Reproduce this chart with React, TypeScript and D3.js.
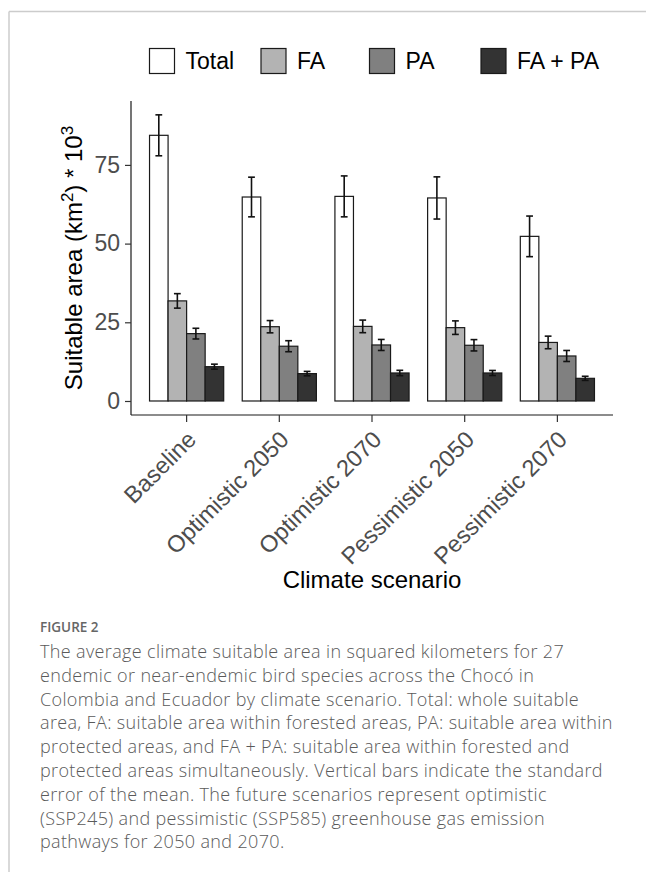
import React, { useEffect, useRef } from "react";
import * as d3 from "d3";

const scenarios = ["Baseline", "Optimistic 2050", "Optimistic 2070", "Pessimistic 2050", "Pessimistic 2070"];
const groups = ["Total", "FA", "PA", "FA + PA"];
const totalMean = [84.4, 64.8, 65.0, 64.5, 52.3];
const totalSE = [6.5, 6.3, 6.5, 6.7, 6.45];
const faMean = [31.8, 23.6, 23.7, 23.3, 18.6];
const faSE = [2.3, 1.95, 2.0, 2.15, 2.0];
const paMean = [21.4, 17.4, 17.8, 17.7, 14.3];
const paSE = [1.7, 1.75, 1.75, 1.8, 1.75];
const fapaMean = [10.9, 8.7, 8.9, 8.9, 7.2];
const fapaSE = [0.8, 0.7, 0.85, 0.8, 0.65];
const yTicks = [0, 25, 50, 75];
const groupColors = ["#ffffff", "#b3b3b3", "#808080", "#333333"];

const captionTitle = "FIGURE 2";
const captionLines = [
  "The average climate suitable area in squared kilometers for 27",
  "endemic or near-endemic bird species across the Chocó in",
  "Colombia and Ecuador by climate scenario. Total: whole suitable",
  "area, FA: suitable area within forested areas, PA: suitable area within",
  "protected areas, and FA + PA: suitable area within forested and",
  "protected areas simultaneously. Vertical bars indicate the standard",
  "error of the mean. The future scenarios represent optimistic",
  "(SSP245) and pessimistic (SSP585) greenhouse gas emission",
  "pathways for 2050 and 2070.",
];

const means = [totalMean, faMean, paMean, fapaMean];
const ses = [totalSE, faSE, paSE, fapaSE];

const W = 646;
const H = 872;
const panel = { left: 131, right: 613, top: 101, bottom: 415 };
const FONT = "Liberation Sans, Arial, sans-serif";

export default function App() {
  const xAxisRef = useRef<SVGGElement>(null);
  const yAxisRef = useRef<SVGGElement>(null);

  const x = d3.scaleBand<string>().domain(scenarios).range([panel.left, panel.right]).paddingInner(0.2).paddingOuter(0.2);
  const xi = d3.scaleBand<string>().domain(groups).range([0, x.bandwidth()]).padding(0);
  const y = d3.scaleLinear().domain([-4.45, 95.3]).range([panel.bottom, panel.top]);

  useEffect(() => {
    if (yAxisRef.current) {
      const g = d3.select(yAxisRef.current);
      g.call(d3.axisLeft(y).tickValues(yTicks).tickSize(6).tickSizeOuter(0).tickPadding(5));
      g.select(".domain").attr("stroke", "#1a1a1a").attr("stroke-width", 1.2)
        .attr("d", `M0,${panel.top}V${panel.bottom}`);
      g.selectAll(".tick line").attr("stroke", "#333").attr("stroke-width", 1.2);
      g.selectAll(".tick text").attr("fill", "#4d4d4d").attr("font-size", 23).attr("font-family", FONT);
    }
    if (xAxisRef.current) {
      const g = d3.select(xAxisRef.current);
      g.call(d3.axisBottom(x).tickSize(7).tickSizeOuter(0));
      g.select(".domain").attr("stroke", "#1a1a1a").attr("stroke-width", 1.2)
        .attr("d", `M${panel.left},0H${panel.right}`);
      g.selectAll(".tick line").attr("stroke", "#333").attr("stroke-width", 1.2);
      g.selectAll(".tick text")
        .attr("fill", "#4d4d4d")
        .attr("font-size", 23.5)
        .attr("font-family", FONT)
        .attr("text-anchor", "end")
        .attr("y", 0)
        .attr("dy", 0)
        .attr("transform", "translate(11,26) rotate(-45)");
    }
  }, []);

  const legendX = [149.5, 261, 369.5, 481];

  return (
    <svg width={W} height={H} style={{ position: "absolute", left: 0, top: 0, background: "#fff" }} fontFamily={FONT}>
      <rect x={0} y={0} width={W} height={H} fill="#fff" />
      <line x1={9} y1={11.5} x2={W} y2={11.5} stroke="#cccccc" strokeWidth={1.5} />
      <line x1={9} y1={11.5} x2={9} y2={H} stroke="#cccccc" strokeWidth={1.5} />

      {/* legend */}
      {groups.map((gname, i) => (
        <g key={gname}>
          <rect x={legendX[i]} y={48.5} width={25} height={25} fill={groupColors[i]} stroke="#1a1a1a" strokeWidth={1.2} />
          <text x={legendX[i] + 36} y={69.3} fontSize={23} fill="#000">{gname}</text>
        </g>
      ))}

      {/* bars */}
      {scenarios.map((s, si) => (
        <g key={s} transform={`translate(${x(s)},0)`}>
          {groups.map((gname, gi) => {
            const v = means[gi][si];
            return (
              <rect
                key={gname}
                x={xi(gname)}
                y={y(v)}
                width={xi.bandwidth()}
                height={y(0) - y(v)}
                fill={groupColors[gi]}
                stroke="#1a1a1a"
                strokeWidth={1.2}
              />
            );
          })}
          {groups.map((gname, gi) => {
            const v = means[gi][si];
            const e = ses[gi][si];
            const cx = (xi(gname) as number) + xi.bandwidth() / 2;
            const hw = 3.4;
            return (
              <g key={gname + "e"} stroke="#111" strokeWidth={1.6}>
                <line x1={cx} x2={cx} y1={y(v + e)} y2={y(v - e)} />
                <line x1={cx - hw} x2={cx + hw} y1={y(v + e)} y2={y(v + e)} />
                <line x1={cx - hw} x2={cx + hw} y1={y(v - e)} y2={y(v - e)} />
              </g>
            );
          })}
        </g>
      ))}

      <g ref={yAxisRef} transform={`translate(${panel.left},0)`} />
      <g ref={xAxisRef} transform={`translate(0,${panel.bottom})`} />

      {/* axis titles */}
      <text transform={`translate(82,${(panel.top + panel.bottom) / 2}) rotate(-90)`} textAnchor="middle" fontSize={24} fill="#000">
        Suitable area (km<tspan dy={-9} fontSize={17}>2</tspan><tspan dy={9}>) * 10</tspan><tspan dy={-9} fontSize={17}>3</tspan>
      </text>
      <text x={(panel.left + panel.right) / 2} y={588} textAnchor="middle" fontSize={24} fill="#000">
        Climate scenario
      </text>

      {/* caption */}
      <text x={40} y={632} fontSize={13.5} fontWeight={600} fill="#666" fontFamily="Open Sans, sans-serif">
        {captionTitle}
      </text>
      {captionLines.map((ln, i) => (
        <text key={i} x={40} y={658 + i * 23.8} fontSize={18} letterSpacing={0.35} fontWeight={300} fill="#5a5a5a" fontFamily="Open Sans, sans-serif">
          {ln}
        </text>
      ))}
    </svg>
  );
}
